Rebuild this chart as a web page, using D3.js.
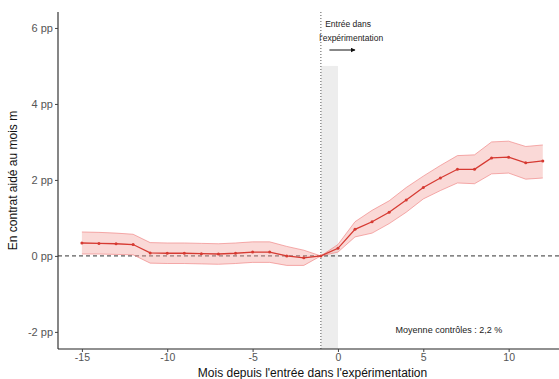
<!DOCTYPE html>
<html><head><meta charset="utf-8">
<script src="https://cdn.jsdelivr.net/npm/d3@7"></script>
<style>body{margin:0;background:#fff}svg{display:block;font-family:"Liberation Sans",Arial,sans-serif}</style>
</head><body><svg id="c" width="559" height="379"></svg>
<script>
const months = [-15,-14,-13,-12,-11,-10,-9,-8,-7,-6,-5,-4,-3,-2,-1,0,1,2,3,4,5,6,7,8,9,10,11,12];
const estimate = [0.34,0.33,0.32,0.30,0.08,0.07,0.07,0.06,0.05,0.07,0.10,0.10,0.00,-0.05,0.00,0.20,0.70,0.90,1.15,1.47,1.80,2.05,2.28,2.28,2.58,2.60,2.45,2.50];
const lower = [0.05,0.05,0.04,0.03,-0.19,-0.20,-0.20,-0.21,-0.22,-0.20,-0.17,-0.17,-0.25,-0.25,0.00,0.10,0.50,0.60,0.85,1.15,1.50,1.72,1.92,1.90,2.16,2.18,2.02,2.05];
const upper = [0.63,0.62,0.60,0.57,0.35,0.34,0.34,0.33,0.32,0.34,0.37,0.37,0.25,0.15,0.00,0.30,0.90,1.20,1.45,1.80,2.10,2.38,2.64,2.66,3.00,3.02,2.88,2.92];
const yTicks = [-2,0,2,4,6];
const yTickLabels = ["-2 pp","0 pp","2 pp","4 pp","6 pp"];
const xTicks = [-15,-10,-5,0,5,10];
const annotationLines = ["Entrée dans","l'expérimentation"];
const controlNote = "Moyenne contrôles : 2,2 %";
const xTitle = "Mois depuis l'entrée dans l'expérimentation";
const yTitle = "En contrat aidé au mois m";

const svg = d3.select("#c");
const m = {l:58, r:559, t:12, b:349};
const x = d3.scaleLinear().domain([-16.4, 12.95]).range([m.l, m.r]);
const y = d3.scaleLinear().domain([-2.45, 6.42]).range([m.b, m.t]);

svg.append("defs").append("marker").attr("id","ah").attr("viewBox","0 0 10 10")
  .attr("refX",9).attr("refY",5).attr("markerWidth",5).attr("markerHeight",5).attr("orient","auto")
  .append("path").attr("d","M0,0L10,5L0,10z").attr("fill","#111");

// grey band
svg.append("rect").attr("x",x(-1)).attr("width",x(0)-x(-1))
  .attr("y",y(5.0)).attr("height",y(-2.45)-y(5.0)).attr("fill","#ededed");

// zero line
svg.append("line").attr("x1",m.l).attr("x2",m.r).attr("y1",y(0)).attr("y2",y(0))
  .attr("stroke","#333").attr("stroke-width",1).attr("stroke-dasharray","4,3");
// vertical dotted
svg.append("line").attr("x1",x(-1)).attr("x2",x(-1)).attr("y1",m.t).attr("y2",m.b)
  .attr("stroke","#555").attr("stroke-width",1).attr("stroke-dasharray","1,2");

const data = months.map((d,i)=>({m:d,e:estimate[i],lo:lower[i],hi:upper[i]}));
svg.append("path").datum(data)
  .attr("d", d3.area().x(d=>x(d.m)).y0(d=>y(d.lo)).y1(d=>y(d.hi)))
  .attr("fill","#f2a09a").attr("fill-opacity",0.4);
svg.append("path").datum(data).attr("d", d3.line().x(d=>x(d.m)).y(d=>y(d.hi)))
  .attr("fill","none").attr("stroke","#f08080").attr("stroke-width",0.8).attr("opacity",0.8);
svg.append("path").datum(data).attr("d", d3.line().x(d=>x(d.m)).y(d=>y(d.lo)))
  .attr("fill","none").attr("stroke","#f08080").attr("stroke-width",0.8).attr("opacity",0.8);
svg.append("path").datum(data).attr("d", d3.line().x(d=>x(d.m)).y(d=>y(d.e)))
  .attr("fill","none").attr("stroke","#d63a32").attr("stroke-width",1.3);
svg.selectAll("circle.p").data(data).enter().append("circle")
  .attr("cx",d=>x(d.m)).attr("cy",d=>y(d.e)).attr("r",1.5).attr("fill","#d63a32");

// axes
const ya = svg.append("g").attr("transform",`translate(${m.l},0)`)
  .call(d3.axisLeft(y).tickValues(yTicks).tickFormat((d,i)=>yTickLabels[i]).tickSize(3).tickPadding(2));
const xa = svg.append("g").attr("transform",`translate(0,${m.b})`)
  .call(d3.axisBottom(x).tickValues(xTicks).tickSize(3).tickPadding(2));
[ya,xa].forEach(g=>{
  g.select(".domain").attr("stroke","#222").attr("stroke-width",1.1);
  g.selectAll(".tick line").attr("stroke","#444");
  g.selectAll(".tick text").attr("fill","#555").attr("font-size",11).attr("font-family","Liberation Sans, Arial, sans-serif");
});
xa.selectAll(".tick text").attr("font-size",10.5);
ya.select(".domain").attr("d",`M0,${m.t}V${m.b}`);
xa.select(".domain").attr("d",`M${m.l},0H${m.r}`);
xa.selectAll(".tick text").text(d=>d<0?"-"+Math.abs(d):d);

// titles
svg.append("text").attr("x",(m.l+m.r)/2+4).attr("y",377).attr("text-anchor","middle")
  .attr("font-size",12).attr("fill","#111").text(xTitle);
svg.append("text").attr("transform",`translate(17,${(m.t+m.b)/2}) rotate(-90)`).attr("text-anchor","middle")
  .attr("font-size",12).attr("fill","#111").text(yTitle);

// annotations
svg.append("text").attr("x",x(-0.75)).attr("y",27).attr("font-size",8.5).attr("fill","#222").text(annotationLines[0]);
svg.append("text").attr("x",x(-1.1)).attr("y",41).attr("font-size",8.5).attr("fill","#222").text(annotationLines[1]);
svg.append("line").attr("x1",x(-0.5)).attr("x2",x(1)).attr("y1",50).attr("y2",50)
  .attr("stroke","#111").attr("stroke-width",1).attr("marker-end","url(#ah)");
svg.append("text").attr("x",x(6.5)).attr("y",y(-1.95)+3).attr("text-anchor","middle")
  .attr("font-size",9).attr("fill","#222").text(controlNote);
</script></body></html>
